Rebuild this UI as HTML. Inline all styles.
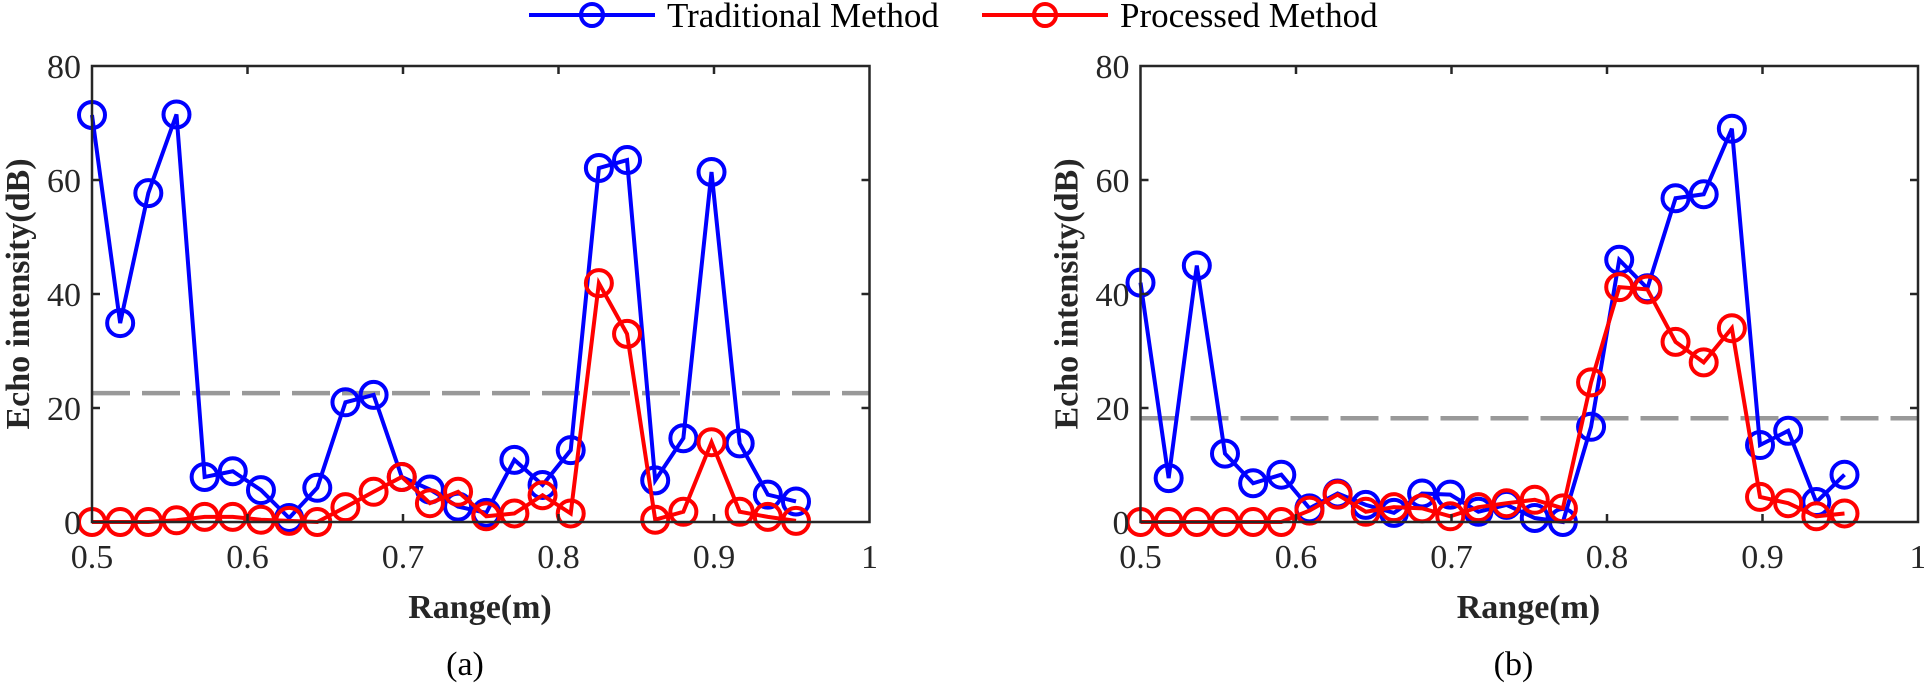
<!DOCTYPE html>
<html><head><meta charset="utf-8"><style>
html,body{margin:0;padding:0;background:#fff;}
svg{display:block;}
text{font-family:"Liberation Serif",serif;fill:#262626;}
</style></head><body>
<svg id="s" width="1924" height="686" viewBox="0 0 1924 686" xmlns="http://www.w3.org/2000/svg">
<line x1="529" y1="15" x2="655" y2="15" stroke="#0000ff" stroke-width="4"/>
<circle cx="592" cy="15" r="11" fill="none" stroke="#0000ff" stroke-width="4"/>
<text x="667" y="27" font-size="35" style="fill:#000">Traditional Method</text>
<line x1="982" y1="15" x2="1108" y2="15" stroke="#ff0000" stroke-width="4"/>
<circle cx="1045" cy="15" r="11" fill="none" stroke="#ff0000" stroke-width="4"/>
<text x="1120" y="27" font-size="35" style="fill:#000">Processed Method</text>
</svg>
<script>
(function(){
const S=document.getElementById('s'),NS='http://www.w3.org/2000/svg';
function el(t,a,txt){const e=document.createElementNS(NS,t);for(const k in a)e.setAttribute(k,a[k]);if(txt!==undefined)e.textContent=txt;S.appendChild(e);return e;}
const T=66,B=522,sy=5.7;
function panel(x0,blue,red,thr,lab){
 const x1=x0+777.5,w=777.5;
 el('line',{x1:x0,y1:B-thr*sy,x2:x1,y2:B-thr*sy,stroke:'#999',"stroke-width":4.5,"stroke-dasharray":"38 12"});
 function ser(d,c){
  const pts=d.map((v,k)=>[x0+k*28.16,B-v*sy]);
  el('polyline',{points:pts.map(p=>p.join(',')).join(' '),fill:'none',stroke:c,"stroke-width":4,"stroke-linejoin":"miter"});
  pts.forEach(p=>el('circle',{cx:p[0],cy:p[1],r:13,fill:'none',stroke:c,"stroke-width":4}));
 }
 ser(blue,'#0000ff');ser(red,'#ff0000');
 el('rect',{x:x0,y:T,width:w,height:B-T,fill:'none',stroke:'#262626',"stroke-width":2.5});
 for(let i=0;i<=5;i++){const x=x0+i*155.5;
  if(i>0&&i<5){el('line',{x1:x,y1:B,x2:x,y2:B-8,stroke:'#262626',"stroke-width":2.5});el('line',{x1:x,y1:T,x2:x,y2:T+8,stroke:'#262626',"stroke-width":2.5});}
  el('text',{x:x,y:568,"font-size":34,"text-anchor":"middle"},i==5?'1':(0.5+i*0.1).toFixed(1));}
 for(let j=0;j<=4;j++){const y=B-j*114;
  if(j>0&&j<4){el('line',{x1:x0,y1:y,x2:x0+8,y2:y,stroke:'#262626',"stroke-width":2.5});el('line',{x1:x1,y1:y,x2:x1-8,y2:y,stroke:'#262626',"stroke-width":2.5});}
  el('text',{x:x0-11,y:y+12,"font-size":34,"text-anchor":"end"},String(j*20));}
 el('text',{x:x0+388,y:618,"font-size":34,"font-weight":"bold","text-anchor":"middle"},'Range(m)');
 el('text',{x:x0+373,y:675,"font-size":34,"text-anchor":"middle",style:'fill:#000'},lab);
 el('text',{x:0,y:0,"font-size":34,"font-weight":"bold","text-anchor":"middle",transform:'translate('+(x0-63)+',294) rotate(-90)'},'Echo intensity(dB)');
}
panel(92,
[71.4,34.9,57.7,71.5,7.9,8.9,5.6,0.7,6.0,21,22.3,7.9,5.7,2.7,1.6,10.9,6.5,12.6,62.1,63.5,7.3,14.7,61.4,13.8,4.8,3.6],
[0,0,0,0.3,0.9,0.9,0.4,0.2,0,2.6,5.3,7.9,3.3,5.3,1,1.5,4.7,1.5,41.9,33,0.4,1.8,14,1.8,0.9,0.2],22.6,'(a)');
panel(1140.5,
[42,7.7,45,12,6.8,8.3,2.4,5,3,1.6,5,4.8,1.8,3,0.7,0,16.7,46,41,56.8,57.5,69,13.5,16,3.5,8.3],
[0,0,0,0,0,0,2,4.8,1.8,2.6,2.4,1,2.6,3.3,3.9,2.4,24.5,41.2,40.8,31.6,28,34,4.4,3.3,1,1.5],18.2,'(b)');
})();
</script>
</body></html>
